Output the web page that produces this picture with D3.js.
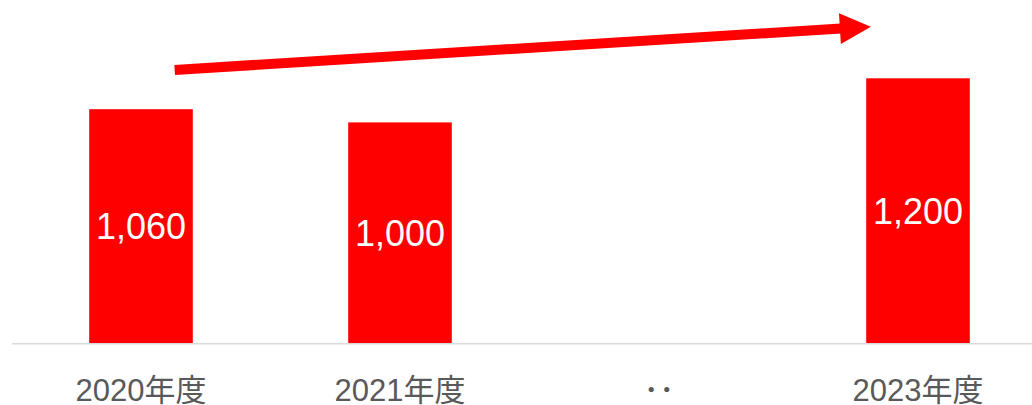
<!DOCTYPE html>
<html>
<head>
<meta charset="utf-8">
<script src="https://cdn.jsdelivr.net/npm/d3@7"></script>
<style>
  html, body { margin: 0; padding: 0; background: #fff; }
  svg { display: block; font-family: "Liberation Sans", Arial, "Noto Sans CJK JP", sans-serif; }
</style>
</head>
<body>
<div id="chart"></div>
<script>
// data
var categories = ["2020年度", "2021年度", "･･", "2023年度"];
var values = [1060, 1000, null, 1200];
var valueLabels = ["1,060", "1,000", "", "1,200"];

// trend arrow, in data terms (category + value)
var arrowStart = { cat: "2020年度", pos: 0.825, value: 1238 };
var arrowEnd = { cat: "2023年度", pos: 0.045, value: 1434 };

var width = 1032, height = 405;
var red = "#ff0000";

var svg = d3.select("#chart").append("svg")
    .attr("width", width)
    .attr("height", height);

var x = d3.scaleBand()
    .domain(categories)
    .range([11.5, 1047.5])
    .paddingInner(0.6)
    .paddingOuter(0.3);

var y = d3.scaleLinear()
    .domain([0, 1555])
    .range([343, 0]);

var data = categories.map(function(c, i) {
  return { cat: c, value: values[i], label: valueLabels[i] };
});

// bars
svg.append("g").selectAll("rect")
    .data(data.filter(function(d) { return d.value != null; }))
    .enter().append("rect")
    .attr("x", function(d) { return x(d.cat); })
    .attr("y", function(d) { return y(d.value); })
    .attr("width", x.bandwidth())
    .attr("height", function(d) { return y(0) - y(d.value); })
    .attr("fill", red);

// value labels inside the bars
svg.append("g").selectAll("text")
    .data(data.filter(function(d) { return d.value != null; }))
    .enter().append("text")
    .attr("x", function(d) { return x(d.cat) + x.bandwidth() / 2; })
    .attr("y", function(d) { return (y(d.value) + y(0)) / 2; })
    .attr("dy", "0.36em")
    .attr("text-anchor", "middle")
    .attr("font-size", "36px")
    .attr("fill", "#fff")
    .text(function(d) { return d.label; });

// baseline
svg.append("line")
    .attr("x1", 12)
    .attr("x2", width)
    .attr("y1", y(0) + 0.75)
    .attr("y2", y(0) + 0.75)
    .attr("stroke", "#d9d9d9")
    .attr("stroke-width", 1.5);

// category axis (no line, no ticks)
var xAxis = svg.append("g")
    .attr("transform", "translate(0," + y(0) + ")")
    .call(d3.axisBottom(x).tickSize(0).tickPadding(0));
xAxis.select(".domain").remove();
xAxis.selectAll("text")
    .attr("y", 58)
    .attr("dy", 0)
    .attr("font-size", "31px")
    .attr("font-family", "\"Liberation Sans\", Arial, \"Noto Sans CJK JP\", sans-serif")
    .attr("fill", "#595959");

// trend arrow
var x0 = x(arrowStart.cat) + x.bandwidth() * arrowStart.pos,
    y0 = y(arrowStart.value),
    x1 = x(arrowEnd.cat) + x.bandwidth() * arrowEnd.pos,
    y1 = y(arrowEnd.value);
var ang = Math.atan2(y1 - y0, x1 - x0),
    headLen = 31, headHalf = 15.5;
var bx = x1 - headLen * Math.cos(ang),
    by = y1 - headLen * Math.sin(ang);

svg.append("line")
    .attr("x1", x0).attr("y1", y0)
    .attr("x2", bx + Math.cos(ang)).attr("y2", by + Math.sin(ang))
    .attr("stroke", red)
    .attr("stroke-width", 10);

svg.append("path")
    .attr("d", "M" + x1 + "," + y1 +
      "L" + (bx - headHalf * Math.sin(ang)) + "," + (by + headHalf * Math.cos(ang)) +
      "L" + (bx + headHalf * Math.sin(ang)) + "," + (by - headHalf * Math.cos(ang)) + "Z")
    .attr("fill", red);
</script>
</body>
</html>
